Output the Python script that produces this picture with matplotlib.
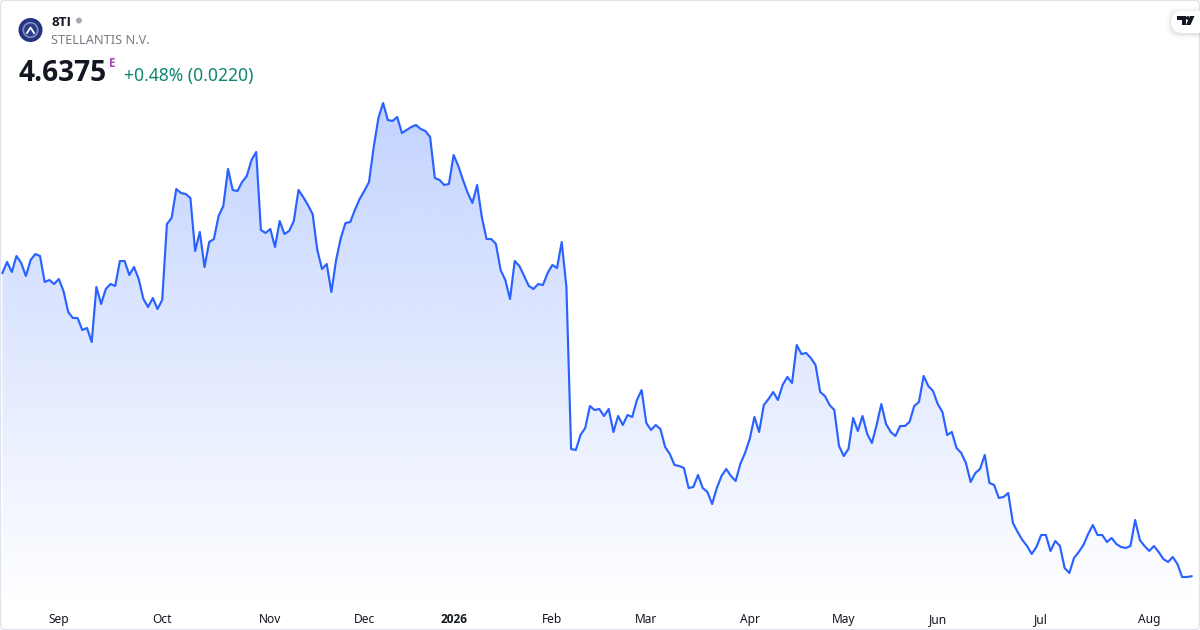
import matplotlib.pyplot as plt
from matplotlib.patches import Circle, Polygon, FancyBboxPatch
import numpy as np

plt.rcParams['font.family'] = ['Noto Sans', 'DejaVu Sans']
BOLD = ['Open Sans', 'DejaVu Sans']

# daily closes, price scale estimated from the last value
closes = [
	7.67, 7.78, 7.68, 7.84, 7.77, 7.64, 7.80, 7.86, 7.84, 7.58, 7.60, 7.56, 7.61, 7.49, 7.28, 7.22,
	7.22, 7.10, 7.12, 6.98, 7.53, 7.36, 7.51, 7.56, 7.54, 7.79, 7.79, 7.65, 7.73, 7.61, 7.41, 7.33,
	7.42, 7.31, 7.40, 8.16, 8.22, 8.51, 8.47, 8.46, 8.42, 7.89, 8.08, 7.73, 7.98, 8.01, 8.24, 8.34,
	8.71, 8.50, 8.49, 8.58, 8.64, 8.80, 8.88, 8.10, 8.07, 8.11, 7.93, 8.19, 8.06, 8.09, 8.19, 8.50,
	8.43, 8.35, 8.26, 7.90, 7.71, 7.76, 7.48, 7.80, 8.02, 8.17, 8.18, 8.30, 8.41, 8.49, 8.58, 8.93,
	9.22, 9.37, 9.20, 9.19, 9.23, 9.07, 9.10, 9.13, 9.15, 9.11, 9.09, 9.03, 8.62, 8.60, 8.55, 8.56,
	8.85, 8.74, 8.60, 8.47, 8.37, 8.55, 8.23, 8.01, 8.01, 7.96, 7.70, 7.60, 7.41, 7.79, 7.74, 7.64,
	7.54, 7.51, 7.56, 7.55, 7.67, 7.75, 7.72, 7.98, 7.53,
	5.91, 5.90, 6.05, 6.12, 6.34, 6.30, 6.31, 6.24, 6.31, 6.08, 6.24, 6.15, 6.25, 6.23, 6.40, 6.50,
	6.17, 6.10, 6.15, 6.11, 5.93, 5.86, 5.75, 5.74, 5.72, 5.52, 5.53, 5.65, 5.52, 5.48, 5.36, 5.52,
	5.64, 5.71, 5.64, 5.59, 5.76, 5.87, 6.01, 6.23, 6.08, 6.35, 6.41, 6.48, 6.40, 6.55, 6.63, 6.57,
	6.95, 6.86, 6.87, 6.82, 6.75, 6.48, 6.44, 6.35, 6.30, 5.94, 5.84, 5.91, 6.22, 6.09, 6.24, 6.06,
	5.97, 6.15,
	6.36, 6.16, 6.08, 6.04, 6.14, 6.14, 6.18, 6.34, 6.38, 6.64, 6.54, 6.49, 6.36, 6.28, 6.05, 6.08,
	5.92, 5.87, 5.77, 5.58, 5.67, 5.71, 5.85, 5.57, 5.55, 5.42, 5.43, 5.47, 5.17, 5.08, 5.00, 4.94,
	4.86, 4.93, 5.05, 5.05, 4.89, 4.99, 4.94, 4.72, 4.67, 4.82, 4.88, 4.95, 5.06, 5.15, 5.05, 5.05,
	4.98, 5.02, 4.96, 4.93, 4.92, 4.94, 5.20, 5.00, 4.94, 4.89, 4.94, 4.88, 4.81, 4.78, 4.83, 4.76,
	4.63, 4.63, 4.6375,
]
tick_labels = ['Sep', 'Oct', 'Nov', 'Dec', '2026', 'Feb', 'Mar', 'Apr', 'May', 'Jun', 'Jul', 'Aug']
tick_days = [12, 34, 57, 77, 96, 117, 137, 159, 179, 199, 221, 244]

ticker = '8TI'
company = 'STELLANTIS N.V.'
last_price = '4.6375'
change_text = '+0.48% (0.0220)'

LINE = '#2962ff'
GREEN = '#0c8570'
GREY = '#787b86'
DARK = '#131722'

days = np.arange(len(closes))

fig = plt.figure(figsize=(12, 6.3), dpi=100, facecolor='white')
ax = fig.add_axes([0, 0, 1, 1])
for s in ax.spines.values():
	s.set_visible(False)
ax.yaxis.set_visible(False)
ax.patch.set_alpha(0)

# area under the line, fading out toward the time axis
poly = ax.fill_between(days, closes, 4.10, facecolor='none', edgecolor='none')
n = 256
grad = np.zeros((n, 1, 4))
grad[:, 0, :3] = (0x29 / 255, 0x62 / 255, 0xff / 255)
grad[:, 0, 3] = np.linspace(0.28, 0.0, n)
im = ax.imshow(grad, extent=[0, len(closes) - 1, 4.32, max(closes)], aspect='auto', origin='upper', zorder=1, interpolation='bilinear')
ax.set_xlim(-0.51, 254.8)
ax.set_ylim(4.10, 10.40)
im.set_clip_path(poly.get_paths()[0], transform=ax.transData)

ax.plot(days, closes, color=LINE, lw=1.55, solid_joinstyle='round', zorder=2)

ax.set_xticks(tick_days)
ax.set_xticklabels(tick_labels, fontsize=8.6, color=DARK)
ax.tick_params(axis='x', length=0, pad=-12)
ax.get_xticklabels()[4].set_family(BOLD)
ax.get_xticklabels()[4].set_fontweight('bold')

# page furniture in pixel coordinates
ui = fig.add_axes([0, 0, 1, 1])
ui.axis('off')

ui.add_patch(FancyBboxPatch((0.5, 0.5), 1199, 629, boxstyle='round,pad=0,rounding_size=4', fc='none', ec='#e0e3eb', lw=0.9, zorder=5))

# company badge
ui.add_patch(Circle((30.5, 30), 12, fc='#24357f', ec='none', zorder=3))
ui.add_patch(Circle((30.5, 30), 8.2, fc='#7c89bd', ec='none', zorder=3))
ui.add_patch(Circle((30.5, 30), 6.4, fc='#2c3d88', ec='none', zorder=3))
ui.plot([27, 30.5, 34], [33, 27.5, 33], color='white', lw=1.3, zorder=4)

ui.text(51, 22, ticker, fontsize=9.6, fontweight='bold', family=BOLD, color=DARK, va='center', ha='left')
ui.add_patch(Circle((79, 20.5), 3, fc='#a8abb5', ec='none'))
ui.text(51, 41, company, fontsize=9.2, color=GREY, va='center', ha='left')
ui.text(18.5, 73.5, last_price, fontsize=20.2, fontweight='bold', family=BOLD, color=DARK, va='center', ha='left')
ui.text(109, 63.5, 'E', fontsize=8.4, fontweight='bold', family=BOLD, color='#ab47bc', va='center', ha='left')
ui.text(124, 76, change_text, fontsize=12.6, color=GREEN, va='center', ha='left')

# TradingView pill
for grow, a in [(5, 0.012), (3.5, 0.02), (2, 0.03), (1, 0.04)]:
	ui.add_patch(FancyBboxPatch((1171 - grow, 11 - grow + 1), 40 + grow, 22 + 2 * grow, boxstyle='round,pad=0,rounding_size=11', fc='black', ec='none', alpha=a, zorder=6))
ui.add_patch(FancyBboxPatch((1171, 11), 40, 22, boxstyle='round,pad=0,rounding_size=11', fc='white', ec='none', zorder=7))
ui.add_patch(Polygon([(1177, 16), (1185.5, 16), (1185.5, 25), (1181.5, 25), (1181.5, 20), (1177, 20)], fc=DARK, ec='none', zorder=8))
ui.add_patch(Circle((1187.8, 18), 1.9, fc=DARK, ec='none', zorder=8))
ui.add_patch(Polygon([(1190, 16), (1194.5, 16), (1190.5, 25), (1186, 25)], fc=DARK, ec='none', zorder=8))
ui.set_xlim(0, 1200)
ui.set_ylim(630, 0)

fig.savefig('out.png', dpi=100, facecolor='white')
